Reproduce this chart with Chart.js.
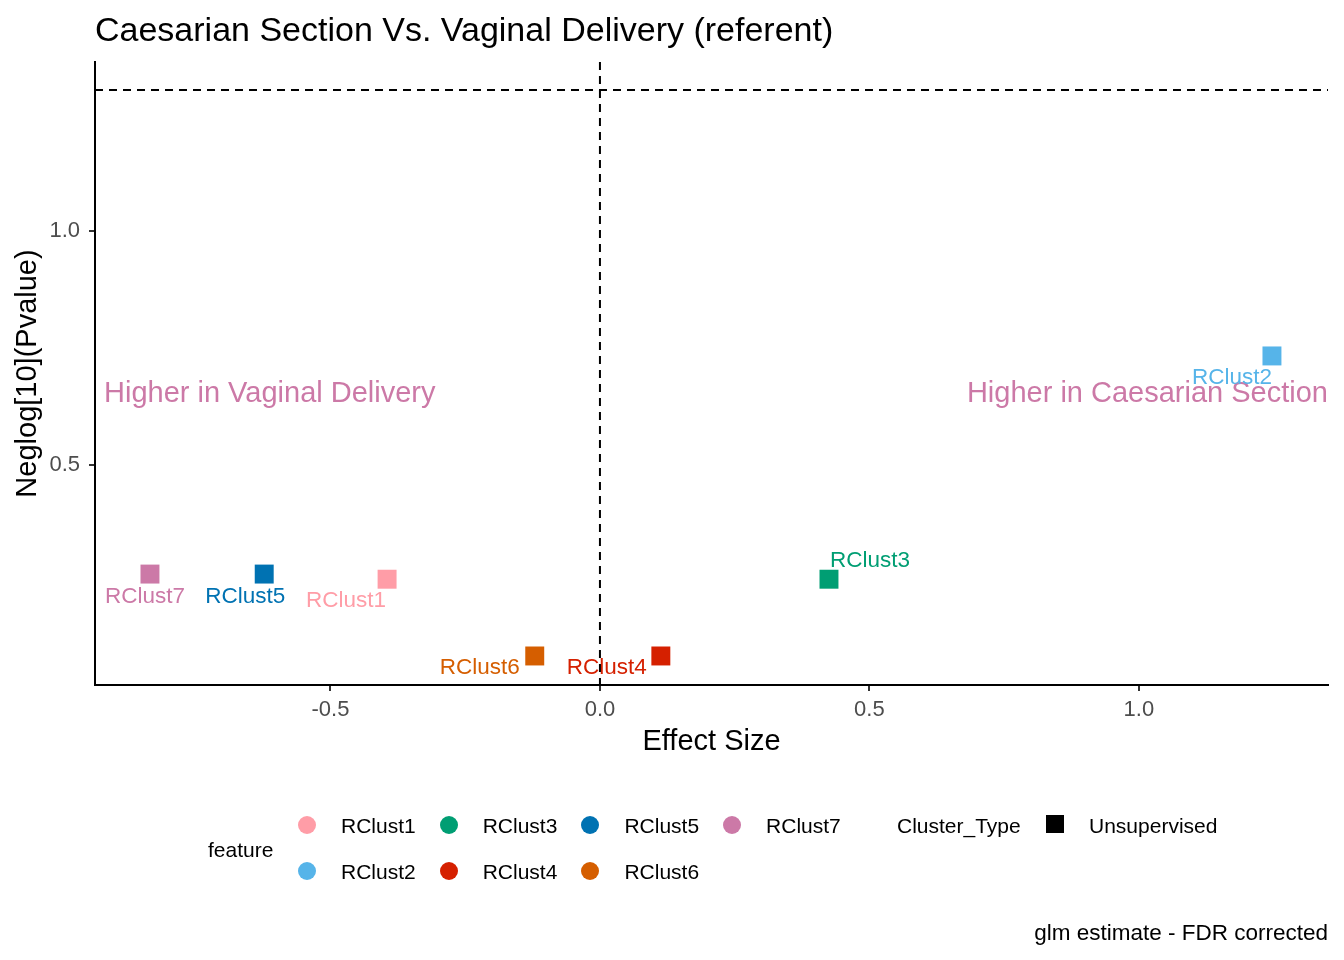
<!DOCTYPE html>
<html>
<head>
<meta charset="utf-8">
<script src="https://cdn.jsdelivr.net/npm/chart.js@4.4.1/dist/chart.umd.min.js"></script>
<style>
  body { margin: 0; background: #fff; font-family: "Liberation Sans", Arial, sans-serif; }
  #wrap { position: relative; width: 1344px; height: 960px; overflow: hidden; }
  #chart { position: absolute; left: 0; top: 0; }
  #title { position: absolute; left: 95px; top: 12px; font-size: 34px; line-height: 1; color: #000; white-space: nowrap; }
  .lg { position: absolute; font-size: 21px; line-height: 1; color: #000; white-space: nowrap; transform: translateY(-50%); }
  .dot { position: absolute; width: 18px; height: 18px; border-radius: 50%; transform: translate(-50%, -50%); }
  .sq { position: absolute; width: 18px; height: 18px; background: #000; transform: translate(-50%, -50%); }
  #caption { position: absolute; right: 16px; top: 933px; font-size: 22.5px; line-height: 1; transform: translateY(-50%); white-space: nowrap; }
</style>
</head>
<body>
<div id="wrap">
  <canvas id="chart" width="1344" height="960"></canvas>
  <div id="title">Caesarian Section Vs. Vaginal Delivery (referent)</div>
  <div id="legend"></div>
  <div id="caption">glm estimate - FDR corrected</div>
</div>
<script>
// data
const features = ["RClust1", "RClust2", "RClust3", "RClust4", "RClust5", "RClust6", "RClust7"];
const effectSize = [-0.395, 1.247, 0.425, 0.113, -0.623, -0.121, -0.835];
const negLogP = [0.256, 0.733, 0.256, 0.092, 0.267, 0.092, 0.267];
const featureColors = ["#FF9DA7", "#56B4E9", "#009E73", "#D52000", "#0072B2", "#D55E00", "#CC79A7"];
const clusterTypes = ["Unsupervised"];
const xTicks = [-0.5, 0.0, 0.5, 1.0];
const yTicks = [0.5, 1.0];
const xRange = [-0.937, 1.351];
const yRange = [0.030, 1.361];
const pCutoff = -Math.log10(0.05);
const sideNotes = ["Higher in Vaginal Delivery", "Higher in Caesarian Section"];
const sideNoteY = 0.652;

// label nudges in pixels (ggrepel-ish placement)
const labelNudge = [[-41, 22], [-40, 22], [41, -18], [-54, 12], [-19, 23], [-55, 12], [-5, 23]];

const FONT = "'Liberation Sans', Arial, sans-serif";

const overlay = {
  id: "overlay",
  afterDatasetsDraw(chart) {
    const { ctx, chartArea: a, scales: { x, y } } = chart;
    ctx.save();

    // side notes
    ctx.font = "29px " + FONT;
    ctx.fillStyle = "#CC79A7";
    ctx.textBaseline = "middle";
    const ny = y.getPixelForValue(sideNoteY);
    ctx.textAlign = "left";
    ctx.fillText(sideNotes[0], a.left + 9, ny);
    ctx.textAlign = "right";
    ctx.fillText(sideNotes[1], a.right, ny);

    // point labels
    ctx.font = "22.5px " + FONT;
    ctx.textAlign = "center";
    features.forEach((f, i) => {
      const px = x.getPixelForValue(effectSize[i]);
      const py = y.getPixelForValue(negLogP[i]);
      ctx.fillStyle = featureColors[i];
      ctx.fillText(f, px + labelNudge[i][0], py + labelNudge[i][1]);
    });

    // reference lines
    ctx.strokeStyle = "#000";
    ctx.lineWidth = 2;
    ctx.setLineDash([8, 6]);
    const hy = y.getPixelForValue(pCutoff);
    ctx.beginPath();
    ctx.moveTo(a.left, hy);
    ctx.lineTo(a.right, hy);
    const vx = x.getPixelForValue(0);
    ctx.moveTo(vx, a.top);
    ctx.lineTo(vx, a.bottom);
    ctx.stroke();
    ctx.restore();
  }
};

const tickFmt = v => Number(v).toFixed(1);

new Chart(document.getElementById("chart"), {
  type: "scatter",
  data: {
    datasets: features.map((f, i) => ({
      label: f,
      data: [{ x: effectSize[i], y: negLogP[i] }],
      pointStyle: "rect",
      pointRadius: 13.4,
      pointBorderWidth: 0,
      backgroundColor: featureColors[i],
      borderColor: featureColors[i]
    }))
  },
  options: {
    responsive: false,
    animation: false,
    layout: { padding: { left: 0, right: 16, top: 62, bottom: 185 } },
    plugins: { legend: { display: false }, tooltip: { enabled: false } },
    scales: {
      x: {
        type: "linear",
        min: xRange[0],
        max: xRange[1],
        afterFit: s => { s.height = 90; },
        afterBuildTicks: s => { s.ticks = xTicks.map(v => ({ value: v })); },
        border: { display: true, color: "#000", width: 2 },
        grid: { drawOnChartArea: false, drawTicks: true, tickLength: 6, color: "#333", lineWidth: 2 },
        ticks: { callback: tickFmt, color: "#4D4D4D", font: { family: FONT, size: 22 }, padding: 6, maxRotation: 0 },
        title: { display: true, text: "Effect Size", color: "#000", font: { family: FONT, size: 29 }, padding: { top: 0, bottom: 16 } }
      },
      y: {
        type: "linear",
        min: yRange[0],
        max: yRange[1],
        afterFit: s => { s.width = 95; },
        afterBuildTicks: s => { s.ticks = yTicks.map(v => ({ value: v })); },
        border: { display: true, color: "#000", width: 2 },
        grid: { drawOnChartArea: false, drawTicks: true, tickLength: 6, color: "#333", lineWidth: 2 },
        ticks: { callback: tickFmt, color: "#4D4D4D", font: { family: FONT, size: 22 }, padding: 9 },
        title: { display: true, text: "Neglog[10](Pvalue)", color: "#000", font: { family: FONT, size: 29 }, padding: { top: 11, bottom: 0 } }
      }
    }
  },
  plugins: [overlay]
});

// legend (ggplot style, bottom)
const lg = document.getElementById("legend");
function addEl(cls, x, y, text, color) {
  const d = document.createElement("div");
  d.className = cls;
  d.style.left = x + "px";
  d.style.top = y + "px";
  if (text) d.textContent = text;
  if (color) d.style.background = color;
  lg.appendChild(d);
}
addEl("lg", 208, 849, "feature");
features.forEach((f, i) => {
  const col = Math.floor(i / 2), row = i % 2;
  const cx = 307 + col * 141.7, cy = 825 + row * 46;
  addEl("dot", cx, cy, null, featureColors[i]);
  addEl("lg", cx + 34, cy, f);
});
addEl("lg", 897, 825, "Cluster_Type");
clusterTypes.forEach((t, i) => {
  addEl("sq", 1055, 824 + i * 46);
  addEl("lg", 1089, 825 + i * 46, t);
});
</script>
</body>
</html>
